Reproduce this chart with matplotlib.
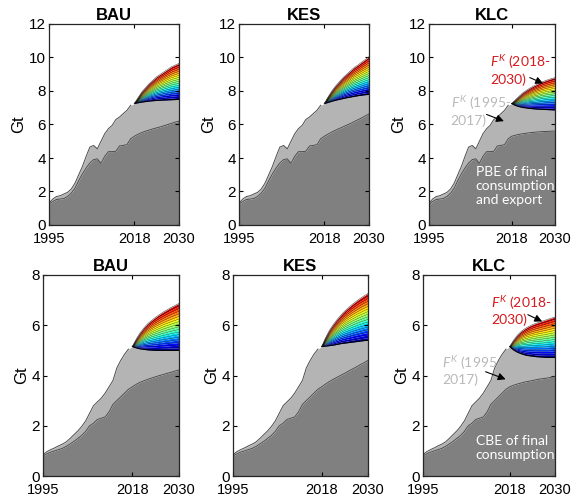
import numpy as np
import matplotlib.pyplot as plt

plt.rcParams['font.family'] = ['Liberation Sans', 'DejaVu Sans']
plt.rcParams['mathtext.fontset'] = 'custom'
plt.rcParams['mathtext.it'] = 'Lato:italic'
plt.rcParams['mathtext.rm'] = 'Lato'

# ======================================================
# Data (Gt)
# ======================================================

hist_years = np.arange(1995, 2018)
proj_years = np.arange(2018, 2031)

# production-based emissions (top row) and consumption-based (bottom row)
pbe_hist = [1.25, 1.4, 1.52, 1.55, 1.58, 1.7, 1.9, 2.2, 2.65, 3.05, 3.4, 3.7,
            3.9, 3.95, 3.68, 4.1, 4.38, 4.38, 4.4, 4.72, 4.75, 4.8, 5.15]
pbe_total_hist = [1.3, 1.55, 1.7, 1.75, 1.85, 1.95, 2.15, 2.5, 3.0, 3.5, 4.1, 4.65,
                  4.75, 4.55, 5.0, 5.45, 5.75, 5.95, 6.3, 6.45, 6.65, 6.85, 7.15]

cbe_hist = [0.8, 0.88, 0.95, 1.0, 1.05, 1.1, 1.18, 1.28, 1.38, 1.5, 1.62, 1.78,
            2.0, 2.1, 2.25, 2.3, 2.35, 2.55, 2.85, 3.0, 3.15, 3.3, 3.45]
cbe_total_hist = [0.85, 0.97, 1.05, 1.12, 1.2, 1.27, 1.36, 1.5, 1.65, 1.8, 1.98, 2.2,
                  2.5, 2.8, 2.95, 3.1, 3.3, 3.55, 3.8, 4.3, 4.6, 4.85, 5.05]

scenarios = ["BAU", "KES", "KLC"]

# projections 2018-2030: base emissions, lower and upper edge of F^K fan
pbe_base = {
    "BAU": [5.3, 5.42, 5.52, 5.6, 5.67, 5.74, 5.8, 5.86, 5.93, 6.0, 6.07, 6.14, 6.2],
    "KES": [5.3, 5.43, 5.55, 5.66, 5.76, 5.86, 5.96, 6.06, 6.17, 6.28, 6.39, 6.51, 6.63],
    "KLC": [5.3, 5.36, 5.41, 5.45, 5.48, 5.51, 5.53, 5.55, 5.57, 5.58, 5.59, 5.6, 5.61],
}
pbe_low = {
    "BAU": [7.25, 7.3, 7.34, 7.37, 7.4, 7.42, 7.44, 7.45, 7.46, 7.47, 7.48, 7.49, 7.5],
    "KES": [7.25, 7.32, 7.39, 7.45, 7.5, 7.55, 7.6, 7.64, 7.68, 7.72, 7.75, 7.78, 7.8],
    "KLC": [7.25, 7.14, 7.07, 7.02, 6.99, 6.96, 6.94, 6.92, 6.91, 6.9, 6.89, 6.88, 6.87],
}
pbe_up = {
    "BAU": [7.25, 7.6, 7.95, 8.2, 8.45, 8.65, 8.85, 9.0, 9.15, 9.3, 9.45, 9.55, 9.65],
    "KES": [7.25, 7.65, 8.0, 8.3, 8.55, 8.8, 9.0, 9.2, 9.4, 9.55, 9.72, 9.88, 10.05],
    "KLC": [7.25, 7.47, 7.68, 7.88, 8.03, 8.17, 8.29, 8.4, 8.5, 8.59, 8.67, 8.74, 8.8],
}

cbe_base = {
    "BAU": [3.55, 3.65, 3.73, 3.79, 3.85, 3.9, 3.95, 4.0, 4.04, 4.09, 4.13, 4.18, 4.22],
    "KES": [3.55, 3.66, 3.76, 3.85, 3.93, 4.01, 4.09, 4.18, 4.26, 4.34, 4.43, 4.51, 4.6],
    "KLC": [3.55, 3.61, 3.66, 3.7, 3.74, 3.77, 3.8, 3.83, 3.86, 3.88, 3.9, 3.93, 3.95],
}
cbe_low = {
    "BAU": [5.15, 5.1, 5.06, 5.04, 5.02, 5.01, 5.0, 5.0, 5.0, 5.0, 5.0, 5.0, 5.0],
    "KES": [5.15, 5.17, 5.19, 5.21, 5.24, 5.27, 5.29, 5.31, 5.33, 5.35, 5.37, 5.39, 5.4],
    "KLC": [5.15, 5.02, 4.93, 4.87, 4.82, 4.79, 4.77, 4.75, 4.74, 4.73, 4.72, 4.72, 4.72],
}
cbe_up = {
    "BAU": [5.15, 5.45, 5.7, 5.9, 6.07, 6.2, 6.32, 6.43, 6.53, 6.62, 6.71, 6.79, 6.87],
    "KES": [5.15, 5.5, 5.8, 6.03, 6.23, 6.41, 6.57, 6.71, 6.84, 6.96, 7.07, 7.17, 7.27],
    "KLC": [5.15, 5.4, 5.6, 5.75, 5.86, 5.95, 6.02, 6.08, 6.13, 6.18, 6.23, 6.28, 6.33],
}

n_bands = 18
dark = "#808080"
light = "#b4b4b4"
edge = "#4d4d4d"


def draw_panel(ax, base_hist, total_hist, base, low, up, ymax, title):

    years = np.concatenate([hist_years, proj_years])
    base_all = np.concatenate([base_hist, base])
    top_all = np.concatenate([total_hist, low])

    ax.fill_between(years, 0, base_all, color=dark, lw=0)
    ax.fill_between(years, base_all, top_all, color=light, lw=0)

    # fan of F^K (2018-2030) bands between lower and upper edge
    low = np.array(low)
    up = np.array(up)
    fracs = np.linspace(0, 1, n_bands + 1)
    colors = plt.cm.jet(np.linspace(0.03, 0.93, n_bands))
    for i in range(n_bands):
        y0 = low + fracs[i] * (up - low)
        y1 = low + fracs[i + 1] * (up - low)
        ax.fill_between(proj_years, y0, y1, color=colors[i], lw=0)
    for f in fracs[1:-1]:
        ax.plot(proj_years, low + f * (up - low), color="k", lw=0.25, alpha=0.8)
    ax.plot(proj_years, low, color="k", lw=0.8)
    ax.plot(proj_years, up, color=edge, lw=0.4)

    ax.plot(years, base_all, color=edge, lw=0.7)
    ax.plot(hist_years, total_hist, color=edge, lw=0.7)

    ax.set_xlim(1995, 2030)
    ax.set_ylim(0, ymax)
    ax.set_xticks([1995, 2018, 2030])
    ax.set_yticks(np.arange(0, ymax + 1, 2))
    ax.tick_params(direction="in", length=3, top=True, right=True,
                   labelsize=11)
    ax.tick_params(axis="x", pad=5, labelsize=10.5)
    ax.tick_params(axis="y", pad=2)
    ax.set_ylabel("Gt", fontsize=12, labelpad=2)
    ax.set_title(title, fontsize=12, fontweight="bold", pad=3)
    for s in ax.spines.values():
        s.set_linewidth(0.9)
        s.set_color("#262626")


fig = plt.figure(figsize=(5.72, 4.98), dpi=100)

W, H = 572, 498
top_left = [49, 239, 429]
top_width = [130, 130, 126]
bot_left = [43, 233, 423]
bot_width = [136, 135, 132]

axes_top = []
axes_bot = []
for i, sc in enumerate(scenarios):
    ax = fig.add_axes([top_left[i] / W, (H - 225) / H, top_width[i] / W, 201 / H])
    draw_panel(ax, pbe_hist, pbe_total_hist, pbe_base[sc], pbe_low[sc], pbe_up[sc], 12, sc)
    axes_top.append(ax)

    ax = fig.add_axes([bot_left[i] / W, (H - 476) / H, bot_width[i] / W, 201 / H])
    draw_panel(ax, cbe_hist, cbe_total_hist, cbe_base[sc], cbe_low[sc], cbe_up[sc], 8, sc)
    axes_bot.append(ax)

# ======================================================
# Labels in the KLC panels
# ======================================================

note = dict(family=["Lato", "DejaVu Sans"], fontsize=10, linespacing=1.2)
arrow = dict(arrowstyle="-|>", color="k", lw=0.8, mutation_scale=11,
             shrinkA=0, shrinkB=0)

ax = axes_top[2]
ax.text(2012.0, 9.3, "$F^K$ (2018-\n2030)", color="#d7191c", va="center", **note)
ax.annotate("", xy=(2026.7, 8.45), xytext=(2023.0, 8.8), arrowprops=arrow)
ax.text(2001.0, 6.85, "$F^K$ (1995-\n2017)", color="#b9b9b9", va="center", **note)
ax.annotate("", xy=(2015.8, 6.2), xytext=(2011.0, 6.6), arrowprops=arrow)
ax.text(2008.0, 2.33, "PBE of final\nconsumption\nand export", color="white",
        va="center", **note)

ax = axes_bot[2]
ax.text(2013.0, 6.6, "$F^K$ (2018-\n2030)", color="#d7191c", va="center", **note)
ax.annotate("", xy=(2026.6, 6.15), xytext=(2022.8, 6.42), arrowprops=arrow)
ax.text(2000.0, 4.22, "$F^K$ (1995-\n2017)", color="#b9b9b9", va="center", **note)
ax.annotate("", xy=(2016.9, 3.85), xytext=(2011.6, 4.15), arrowprops=arrow)
ax.text(2009.0, 1.12, "CBE of final\nconsumption", color="white", va="center", **note)

fig.savefig("out.png", dpi=100)
